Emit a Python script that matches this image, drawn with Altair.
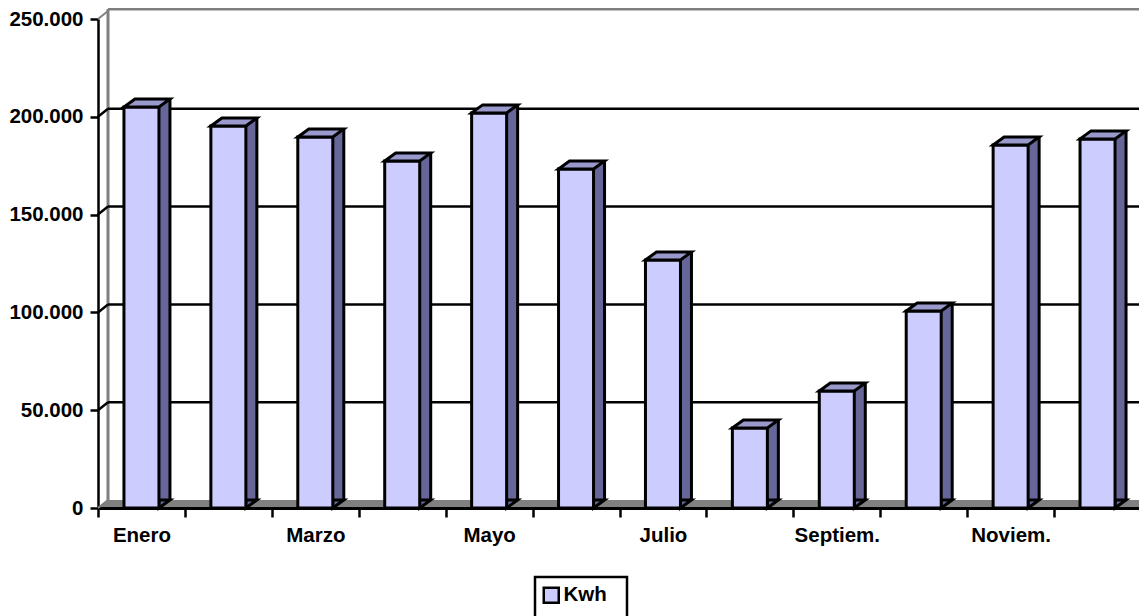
import altair as alt
import pandas as pd

months = ["Enero", "Febrero", "Marzo", "Abril", "Mayo", "Junio", "Julio", "Agosto",
          "Septiem.", "Octubre", "Noviem.", "Diciem."]
kwh = [205000, 195300, 189700, 177400, 202000, 173300, 126800, 40900, 59800, 100700, 185600, 188700]
shown_labels = ["Enero", "Marzo", "Mayo", "Julio", "Septiem.", "Noviem."]
grid_values = [50000, 100000, 150000, 200000]
edge_values = [0, 250000]
y_ticks = [0, 50000, 100000, 150000, 200000, 250000]
series_name = "Kwh"

df = pd.DataFrame({"month": months, "kwh": kwh, "zero": [0] * len(months), "series": [series_name] * len(months)})
grid_df = pd.DataFrame({"v": grid_values})
edge_df = pd.DataFrame({"v": edge_values})
one = pd.DataFrame({"a": [0]})

FONT = "Liberation Sans"
FS = 20.5
FRONT, TOPC, SIDE, WALL = "#CCCCFF", "#9999CC", "#666699", "#808080"
W, H = 1041, 489
X_SPAN = 1043
BAR = 35
DX, DY = 11, 8
LW = 2.5
BAR_LW = 3

label_list = "[" + ",".join("'%s'" % s for s in shown_labels) + "]"
x_axis = alt.Axis(tickBand="extent", labelAngle=0, labelOverlap=False, tickSize=9, tickWidth=LW,
                  tickColor="black", domainColor="black", domainWidth=3, title=None,
                  labelFont=FONT, labelFontWeight="bold", labelFontSize=FS, labelColor="black",
                  labelPadding=8, labelLimit=200,
                  labelExpr="indexof(%s, datum.label) >= 0 ? datum.label : ''" % label_list)
y_axis = alt.Axis(values=y_ticks, tickSize=8, tickWidth=LW, tickColor="black", grid=False, title=None,
                  domainColor="black", domainWidth=LW,
                  labelFont=FONT, labelFontWeight="bold", labelFontSize=FS, labelColor="black",
                  labelPadding=7, labelExpr="replace(format(datum.value, ','), ',', '.')")

xs = alt.Scale(domain=months, range=[0, X_SPAN], paddingInner=0, paddingOuter=0)
ys = alt.Scale(domain=[0, 250000], nice=False)
X = alt.X("month:N", sort=months, scale=xs, axis=x_axis)
Y = alt.Y("kwh:Q", scale=ys, axis=y_axis)
YV = alt.Y("v:Q", scale=ys, axis=y_axis)
YZ = alt.Y("zero:Q", scale=ys, axis=y_axis)
Y2 = alt.Y2("zero:Q")

wall_left = alt.Chart(one).mark_rule(color=WALL, strokeWidth=3).encode(
    x=alt.value(10), y=alt.value(-10), y2=alt.value(H - DY))
wall_top = alt.Chart(one).mark_rule(color=WALL, strokeWidth=3).encode(
    x=alt.value(10), x2=alt.value(W + 8), y=alt.value(-10))
floor = alt.Chart(one).mark_point(
    shape="M0 -1 L10 -8 L1049 -8 L1043 -1 Z", size=4, filled=True, fill=WALL, opacity=1, strokeWidth=0
).encode(x=alt.value(0), y=alt.value(H))
grid_line = alt.Chart(grid_df).mark_rule(color="black", strokeWidth=LW, yOffset=-DY).encode(
    x=alt.value(10), x2=alt.value(W + 8), y=YV)
grid_diag = alt.Chart(grid_df).transform_calculate(top="datum.v + 4090").mark_rule(color="black", strokeWidth=LW).encode(
    x=alt.value(0), x2=alt.value(10), y=YV, y2=alt.Y2("top:Q"))
edge_diag = alt.Chart(edge_df).transform_calculate(top="datum.v + 4090").mark_rule(color=WALL, strokeWidth=2).encode(
    x=alt.value(0), x2=alt.value(10), y=YV, y2=alt.Y2("top:Q"))

side_body = alt.Chart(df).mark_bar(size=DX, xOffset=BAR / 2 + DX / 2, color=SIDE, strokeWidth=0, y2Offset=-DY).encode(
    x=X, y=Y, y2=Y2)
side_top = alt.Chart(df).mark_point(
    shape="M17.5 0 L28.5 -8 L28.5 0 Z", size=4, filled=True, fill=SIDE, opacity=1, strokeWidth=0
).encode(x=X, y=Y)
side_base = alt.Chart(df).mark_point(
    shape="M17.5 0 L28.5 -8 L17.5 -8 Z", size=4, filled=True, fill=SIDE, stroke="black", opacity=1, strokeWidth=BAR_LW
).encode(x=X, y=YZ)
side_edge = alt.Chart(df).mark_rule(color="black", strokeWidth=BAR_LW, xOffset=BAR / 2 + DX, yOffset=-DY, y2Offset=-DY).encode(
    x=X, y=Y, y2=Y2)
front = alt.Chart(df).mark_bar(size=BAR, stroke="black", strokeWidth=BAR_LW).encode(
    x=X, y=Y, y2=Y2,
    color=alt.Color("series:N", scale=alt.Scale(domain=[series_name], range=[FRONT]), title=None,
                    legend=alt.Legend(orient="none", legendX=443, legendY=566, title=None,
                                      symbolType="square", symbolSize=225, symbolStrokeColor="black",
                                      symbolStrokeWidth=LW, symbolFillColor=FRONT, symbolOpacity=1,
                                      labelFont=FONT, labelFontWeight="bold", labelFontSize=FS,
                                      labelColor="black", labelOffset=2)))
cap = alt.Chart(df).mark_point(
    shape="M-17.5 0 L-6.5 -8 L28.5 -8 L17.5 0 Z", size=4, filled=True, fill=TOPC, stroke="black",
    opacity=1, strokeWidth=BAR_LW
).encode(x=X, y=Y)
legend_box = alt.Chart(one).mark_rect(fill="white", stroke="black", strokeWidth=LW).encode(
    x=alt.value(437), x2=alt.value(529), y=alt.value(558), y2=alt.value(625))

chart = alt.layer(
    wall_left, wall_top, floor, edge_diag, grid_line, grid_diag,
    side_body, side_top, side_base, side_edge, legend_box, front, cap
).properties(
    width=W, height=H,
    padding={"left": 90, "top": 11, "right": 0, "bottom": 108},
    autosize=alt.AutoSizeParams(type="none", contains="content"),
).configure_view(stroke=None).resolve_scale(x="shared", y="shared")

chart.save("out.html", embed_options={"renderer": "svg", "actions": False})
